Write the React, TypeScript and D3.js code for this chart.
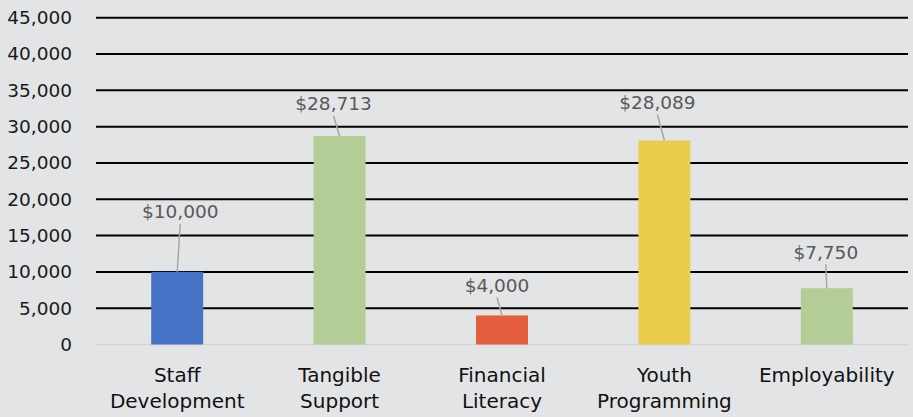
import React from "react";
import * as d3 from "d3";

const categories = [["Staff", "Development"], ["Tangible", "Support"], ["Financial", "Literacy"], ["Youth", "Programming"], ["Employability"]];
const values = [10000, 28713, 4000, 28089, 7750];
const colors = ["#4472c4", "#b4cc95", "#e45e3e", "#ebcd4e", "#b4cc95"];
const yTicks = [0, 5000, 10000, 15000, 20000, 25000, 30000, 35000, 40000, 45000];
// label offsets in px relative to bar top center (dx, dy)
const labelDx = [3, -6, -5, -7, -1];
const labelDy = [-60, -32, -30, -38, -36];

const W = 913, H = 417;
const left = 96, right = 908, top = 17.7, bottom = 344.5;

export default function App() {
  const x = d3.scaleBand<number>().domain(d3.range(values.length)).range([left, right]).paddingInner(0.68).paddingOuter(0.34);
  const y = d3.scaleLinear().domain([0, 45000]).range([bottom, top]);
  const fmt = d3.format(",");
  const font = "DejaVu Sans, sans-serif";
  return (
    <svg width={W} height={H} style={{ position: "absolute", left: 0, top: 0 }} fontFamily={font}>
      <rect width={W} height={H} fill="#e3e4e6" />
      {yTicks.map((t) => (
        <g key={t}>
          <line x1={left} x2={right} y1={y(t)} y2={y(t)} stroke={t === 0 ? "#d2d3d5" : "#000"} strokeWidth={t === 0 ? 1.5 : 2} />
          <text x={72} y={y(t)} dy="0.35em" textAnchor="end" fontSize={18.5} fill="#1a1a1a">{fmt(t)}</text>
        </g>
      ))}
      {values.map((v, i) => {
        const cx = x(i)! + x.bandwidth() / 2;
        const lx = cx + labelDx[i];
        const ly = y(v) + labelDy[i];
        return (
          <g key={i}>
            <rect x={x(i)} y={y(v)} width={x.bandwidth()} height={y(0) - y(v)} fill={colors[i]} />
            <line x1={lx} y1={ly + 12} x2={cx} y2={y(v)} stroke="#a6a6a6" strokeWidth={1.5} />
            <text x={lx} y={ly} dy="0.35em" textAnchor="middle" fontSize={18.5} fill="#595959">{"$" + fmt(v)}</text>
            {categories[i].map((c, j) => (
              <text key={j} x={cx} y={381.5 + j * 26.5} textAnchor="middle" fontSize={20} fill="#111">{c}</text>
            ))}
          </g>
        );
      })}
    </svg>
  );
}
